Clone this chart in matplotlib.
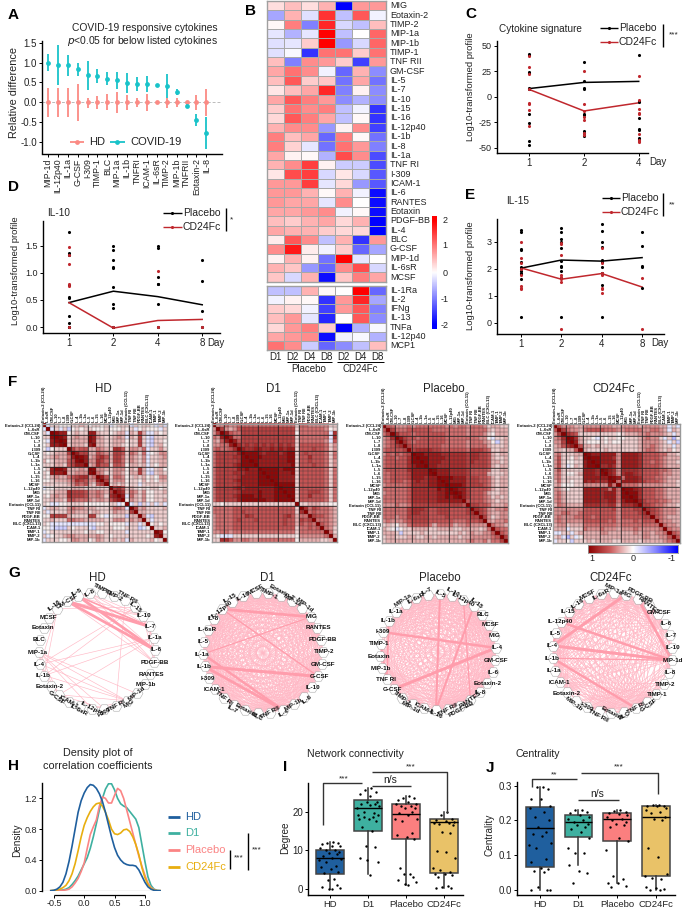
import numpy as np
import matplotlib
matplotlib.use('Agg')
import matplotlib.pyplot as plt
from matplotlib.colors import LinearSegmentedColormap

plt.rcParams['font.family'] = ['Liberation Sans', 'DejaVu Sans']
W, H = 685, 909
TXT = '#222222'

# ---------- Panel A ----------
A_labels = ['MIP-1d','IL-12p40','IL-1a','G-CSF','I-309','TIMP-1','BLC','MIP-1a','IL-1b','TNFRI','ICAM-1','IL-6sR','TIMP-2','MIP-1b','TNFRII','Eotaxin-2','IL-8']
A_cov_mean = [1.0,.94,.93,.83,.69,.66,.59,.55,.48,.47,.45,.44,.40,.25,-.09,-.45,-.76]
A_cov_low = [.79,.43,.67,.66,.32,.48,.44,.33,.23,.29,.25,.41,.11,.18,-.13,-.60,-1.16]
A_cov_high = [1.21,1.44,1.18,1.00,1.05,.84,.75,.76,.73,.63,.66,.47,.70,.33,-.05,-.30,-.37]
A_hd_mean = [0]*17
A_hd_low = [-.36,-.37,-.36,-.46,-.13,-.16,-.2,-.26,-.19,-.12,-.22,-.04,-.13,-.11,-.05,-.19,-.34]
A_hd_high = [.35,.36,.35,.45,.12,.15,.2,.25,.18,.11,.21,.03,.12,.10,.04,.18,.33]

# ---------- Panel B ----------
B_cols = ['D1','D2','D4','D8','D2','D4','D8']
B_top_labels = ['MIG','Eotaxin-2','TIMP-2','MIP-1a','MIP-1b','TIMP-1','TNF RII','GM-CSF','IL-5','IL-7','IL-10','IL-15','IL-16','IL-12p40','IL-1b','IL-8','IL-1a','TNF RI','I-309','ICAM-1','IL-6','RANTES','Eotaxin','PDGF-BB','IL-4','BLC','G-CSF','MIP-1d','IL-6sR','MCSF']
B_top = [
[.25,.5,.25,.6,-2,.8,.8],[-.7,.6,-.25,1.6,-.5,1.3,-.1],[.05,1,-1,1.7,-.3,-.5,.5],[-.2,-.6,-.2,2,-.5,0,1.2],
[-.25,-.2,.4,2,-.8,-.3,1.2],[-.25,-.05,-1.6,1.1,1.1,.4,1.1],[.5,-1,.9,.8,.4,-1.5,.8],[.7,1.1,.9,-.1,-1.2,.6,-.9],
[.5,1.3,.4,.45,-1.1,.7,-1.1],[.2,.5,.7,1.7,-1,.1,-.9],[.7,1.3,1,.8,-.9,-.6,-.9],[.4,1.1,.9,1,-.5,-.1,-1.6],
[.3,1.3,1,.7,-.5,.05,-1.6],[.6,.9,.9,-.8,.1,.9,-1.5],[1,.5,.7,-1.2,1,.05,-1.1],[1,.35,-.2,-1.1,1.1,.8,-1],
[.7,.1,.05,-.6,1.4,.9,-1.4],[.6,.9,1.5,.1,-.4,-.4,-1.4],[.2,1.4,1.5,-.3,.2,-.3,-1.3],[.8,.8,1.5,-.2,.3,-.8,-1.3],
[.8,.8,.6,.05,.6,-.1,-1.9],[.8,.7,.7,-.2,.9,0,-1.9],[.7,.7,.8,.9,-.1,.05,-1.9],[.5,.4,.6,.7,.3,.6,-2],
[.7,.6,.6,.4,.3,.3,-2],[.15,1.3,.9,-.5,.6,-1.6,.8],[.9,1.8,.15,-.1,.4,-1.2,-.7],[.1,.6,.1,-1.1,2,-.2,0],
[.6,.45,-.8,-1.2,.9,1.4,-.3],[.45,-.3,.6,-1.9,.45,1,.7]]
B_bot_labels = ['IL-1Ra','IL-2','IFNg','IL-13','TNFa','IL-12p40','MCP1']
B_bot = [[-.5,-.5,.6,.05,0,2,-1.2],[-.1,.1,.05,-1.6,.8,1.7,-.7],[.4,.3,-.1,-1.5,.8,1.3,-1],[.5,.8,-.2,-1.7,0,1.3,-.9],
[.3,.8,1,.4,-2,-.6,-.05],[.7,.8,.9,-1.9,-.1,-.05,-.6],[1.1,.9,-.4,-1.2,-.9,-.5,.5]]

# ---------- Panels C, D, E ----------
C_days = ['1','2','4']
C_black = [[42,41,24,23,9,8,-17,-26,-43,-47],[34,15,9,8,-17,-18,-34,-36,-38,-39],[41,-4,-5,-21,-32,-33,-40,-41]]
C_red = [[40,29,22,8,-7,-6,-13,-29],[25,-7,-14,-20,-23,-38,-36],[20,-3,-12,-16,-17,-37,-43,-44,-42]]
C_placebo = [8,14,15]
C_cd24 = [7,-14,-6]
D_days = ['1','2','4','8']
D_black = [[1.75,1.36,1.33,.78,.55,.54,.2,.08,0,0],[1.5,1.42,1.23,1.1,1.08,.74,.42,.35,0],[1.5,1.46,.92,.8,.79,.43,0],[1.24,.84,.29,0]]
D_red = [[1.48,1.32,1.17,.79,.76,0],[0],[1.04,0],[0]]
D_placebo = [.45,.66,.56,.41]
D_cd24 = [.45,-.02,.12,.14]
E_black = [[3.42,3.35,2.72,2.68,2.25,2.05,1.9,1.85,1.8,1.6,.22],[3.5,3.35,3.1,3.0,2.75,2.3,2.1,2.05,1.9,1.65,.22],[3.65,3.4,3.0,2.8,2.33,2.25,2.05,1.85,1.4,.22],[3.35,2.85,2.1,2.05,1.3]]
E_red = [[3.0,2.4,2.2,2.0,1.75,1.35,1.3,1.25],[2.95,2.9,2.5,1.75,1.7,1.6,1.5,-.22],[2.75,2.2,1.85,1.75,1.3,1.25,1.1],[1.65,-.22]]
E_placebo = [2.02,2.32,2.28,2.41]
E_cd24 = [2.03,1.61,1.82,1.32]

# ---------- Panel F: upper triangles, digit = r*10, a/b/c = -0.1/-0.2/-0.3 ----------
F_names = ['Eotaxin-2','IL-6sR','GM-CSF','IL-10','IL-7','IL-8','I-309','G-CSF','IL-4','IL-1b','IL-1a','IL-5','IL-6','IL-15','IL-16','MCSF','IL-12p40','MIG','MIP-1a','MIP-1d','Eotaxin','TNF RI','TNF RII','PDGF-BB','RANTES','BLC','ICAM-1','TIMP-1','TIMP-2','MIP-1b']
F_labels = ['Eotaxin-2 (CCL24)','IL-6sR','GM-CSF','IL-10','IL-7','IL-8','I-309','G-CSF','IL-4','IL-1b','IL-1a','IL-5','IL-6','IL-15','IL-16','MCSF','IL-12p40','MIG','MIP-1a','MIP-1d','Eotaxin (CCL11)','TNF RI','TNF RII','PDGF-BB','RANTES','BLC (CXCL13)','ICAM-1','TIMP-1','TIMP-2','MIP-1b']
F_HD = ["a1100 01121 01101 a0111 a1011 0a1a","a1a1b 01011 00010 00101 a0100 0a1","98801 21188 21101 22a21 62aa1 01","98123 22983 21123 2a216 1ab11 1",
"91222 29822 11222 01161 ab110","12221 89221 12210 1161a b120","64552 24321 77513 324a1 131","86622 54326 65143 14a01 33","98236 75266 41321 3a112 3",
"83376 42664 13213 a1122","23755 15540 2212a 1022","93321 33302 162aa 120","43113 32022 62ab1 21","85144 30121 20103 3","61333 01102 01022","12120 11a11 1111",
"67512 10101 101","87143 13001 12","8a421 30011 1","03213 00112","a1b1a 1a1a","62311 112","22111 11","3ab11 1","1a111","0101","112","80","1"]
F_D1 = ["33433 44444 44444 44441 44333 3311","63235 66666 66666 66614 44444 301","85446 66666 66666 66044 44444 a7","84466 66666 66666 61444 4444a 7",
"85666 66666 66666 14444 443a5","76767 67676 76761 55555 5413","87788 77878 78815 55655 413","99987 88878 99156 55554 14","99988 88889 91557 55541 4",
"98888 88899 15565 55413","88888 88891 55565 5413","99998 99915 55555 414","99988 89155 55554 14","99888 81555 55541 4","98888 15555 55414","99991 55555 5414",
"99915 55555 414","99155 66654 14","91557 55541 4","15555 55414","11222 1100","74654 432","45444 32","65543 2","44432","5432","431","41","2"]
F_PL = ["54333 43444 44443 43443 44431 2211","64445 55555 44444 44434 44421 222","75554 55555 55444 44344 43102 22","86554 55555 54444 44443 30a11 2",
"75455 55555 44444 34443 20b12","65555 55544 44443 44442 1112","67777 66555 55546 66541 122","99888 87777 77677 66521 22","99888 87777 76776 65211 2",
"98887 77777 67666 52212","88777 77776 66665 2122","98887 77765 55541 122","88877 77655 55211 12","99988 86665 54212 2","98888 66655 42122","99986 66654 2122",
"98865 55542 122","98655 54211 22","86555 43121 2","55554 32122","66554 2223","76532 334","65322 33","63123 3","32334","4332","544","54","6"]
F_CD = ["53332 23333 33322 33332 33332 2a1a","64332 45555 44433 44443 34432 a21","76511 11111 11012 22334 33321 a1","97211 0a101 10011 12343 31a1c 0",
"82100 01010 01111 23333 21a1b","52212 11111 11112 33432 11a1","21111 21111 11123 44321 201","98888 88388 88755 55442 21","99888 73888 87555 54322 2",
"98888 38888 75545 43221","77873 88887 55554 3222","98737 77765 55544 322","87378 87655 55433 22","98488 87555 44322 2","48888 76555 43221","44443 33333 2221",
"99875 55443 222","99755 54432 22","97555 44322 2","86555 44322","66544 3221","76543 332","65433 32","54322 2","43322","4332","433","54","5"]

# ---------- Panel G: node order, clockwise ----------
G_HD_nodes = ['IL-8','TIMP-1','TIMP-2','TNF RII','IL-15','IL-10','IL-7','IL-1a','IL-6','PDGF-BB','RANTES','MIP-1b','MIP-1d','MIG','TNF RI','I-309','IL-12p40','IL-6sR','ICAM-1','G-CSF','Eotaxin-2','IL-1b','IL-4','MIP-1a','BLC','Eotaxin','MCSF','IL-16','GM-CSF','IL-5']
G_D1_nodes = ['TIMP-1','Eotaxin-2','MIP-1a','MIP-1d','MIG','RANTES','PDGF-BB','TIMP-2','GM-CSF','G-CSF','IL-10','IL-6','MIP-1b','IL-4','TNF RII','BLC','Eotaxin','IL-7','TNF RI','ICAM-1','I-309','IL-1b','IL-1a','IL-5','IL-6sR','IL-8','IL-12p40','IL-15','IL-16','MCSF']
G_PL_nodes = ['IL-5','IL-10','IL-12p40','IL-15','BLC','MCSF','MIG','IL-4','GM-CSF','IL-6','Eotaxin-2','IL-8','RANTES','PDGF-BB','TNF RII','IL-16','ICAM-1','MIP-1d','TIMP-2','G-CSF','TNF RI','MIP-1b','Eotaxin','TIMP-1','I-309','IL-1b','IL-1a','MIP-1a','IL-6sR','IL-7']
G_CD_nodes = ['MIG','PDGF-BB','RANTES','GM-CSF','IL-6','IL-7','IL-10','MIP-1d','IL-8','TIMP-2','TIMP-1','G-CSF','TNF RI','BLC','Eotaxin','TNF RII','I-309','MIP-1b','Eotaxin-2','ICAM-1','IL-1a','IL-1b','IL-4','IL-5','IL-12p40','IL-15','IL-16','MCSF','IL-6sR','MIP-1a']
G_HD_heavy = [('GM-CSF','IL-7',2.2),('GM-CSF','IL-6',2.0),('IL-5','IL-6',2.0),('IL-5','IL-7',1.2)]
G_D1_heavy = [('IL-12p40','MIG',2.0),('IL-1b','G-CSF',2.2),('IL-1b','IL-4',2.0),('IL-1a','IL-4',1.8),('IL-12p40','G-CSF',1.0),('IL-1a','MIG',.8)]
G_PL_heavy = [('I-309','IL-4',1.8),('G-CSF','IL-4',2.2),('IL-5','IL-16',1.5),('IL-15','IL-16',1.5),('IL-1b','TNF RI',1.2),('IL-12p40','RANTES',.9),('TIMP-1','TNF RI',1.5)]
G_CD_heavy = [('MIG','IL-4',2.2),('MIP-1d','IL-4',2.2),('MIP-1d','IL-12p40',1.8),('MIP-1d','PDGF-BB',2.0),('IL-1b','TNF RI',1.8),('MIP-1d','IL-1b',.9),('IL-4','IL-5',1.5)]

# ---------- Panel H ----------
H_x = [-.55,-.5,-.45,-.4,-.35,-.3,-.25,-.2,-.15,-.1,-.05,0,.05,.1,.15,.2,.25,.3,.35,.4,.45,.5,.55,.6,.65,.7,.75,.8,.85,.9,.95,1.0,1.05,1.1,1.15,1.2,1.25]
H_hd = [0,.005,.02,.05,.11,.22,.38,.58,.80,1.02,1.17,1.27,1.34,1.38,1.37,1.33,1.26,1.16,1.02,.86,.70,.56,.46,.40,.36,.34,.33,.33,.32,.27,.19,.11,.05,.02,.005,0,0]
H_d1 = [0,0,0,.005,.01,.02,.04,.08,.13,.19,.27,.35,.43,.55,.70,.87,1.05,1.2,1.32,1.39,1.39,1.31,1.2,1.13,1.1,1.08,1.03,.98,.93,.82,.6,.38,.18,.07,.02,.005,0]
H_pl = [0,0,0,0,.005,.01,.02,.05,.1,.16,.25,.36,.55,.73,.83,.92,1.1,1.22,1.2,1.14,1.14,1.24,1.33,1.3,1.2,1.05,.9,.75,.6,.45,.32,.2,.1,.04,.015,0,0]
H_cd = [0,.005,.01,.02,.04,.07,.13,.22,.35,.52,.7,.85,.95,1.03,1.09,1.13,1.14,1.1,1.02,.92,.8,.74,.73,.75,.79,.8,.77,.7,.6,.47,.3,.17,.08,.03,.01,0,0]

# ---------- Panels I, J ----------
GROUPS = ['HD','D1','Placebo','CD24Fc']
I_q1 = [3.8,15,13,4.2]; I_med = [8,21,19.4,17.2]; I_q3 = [10,23,22,18]; I_lo = [0,4,1,.3]; I_hi = [12.2,26,24,20]
J_q1 = [.065,.152,.14,.04]; J_med = [.177,.194,.205,.21]; J_q3 = [.237,.216,.22,.24]; J_lo = [0,.07,.02,0]; J_hi = [.295,.23,.23,.245]
I_pts = [[12.2,12,11.8,11.5,11.2,11,10.5,10.2,10,9.5,9.2,9,8.5,8,7.8,7.5,7,6,5.8,5.2,4.5,4.2,2.6,2.2,1,.6,.2,0,.1],
 [26,25.5,25,24.5,24,19,19,18.5,18.5,22.5,22.5,22,22,21.8,21.5,21,20,19.5,18,18,17.5,16,15,11,10.8,8,7,7.5,3.7],
 [24,23.5,23.5,23,22.5,22,22,21.5,21.5,21,21,20,19.5,19,18,18,17.5,14.5,14,13.5,12.8,5.3,4,4,3,2.2,1.8,1.3,1],
 [20,19,18,17.8,17.5,17.3,17,17,16.8,16.5,14.8,14.5,9.8,9.6,8,5.5,4.8,4.5,4,3.8,3.5,3,.8,.5,.3,.3]]
J_pts = [[.295,.295,.29,.262,.26,.24,.235,.225,.21,.2,.18,.165,.16,.155,.135,.13,.12,.09,.08,.062,.06,.055,.05,.008,0,0,0],
 [.23,.23,.225,.22,.215,.21,.205,.2,.195,.19,.185,.18,.175,.165,.15,.12,.105,.105,.07,.055,.048,.02],
 [.23,.228,.225,.22,.218,.215,.21,.205,.2,.195,.19,.185,.18,.15,.14,.115,.04,.03,.02,.02,.01,.008],
 [.245,.243,.242,.24,.24,.235,.23,.225,.22,.21,.205,.2,.12,.095,.045,.04,.035,.03,.008,.005,.002,0,0]]
JITTER = [.08,-.08,.22,-.22,.04,.26,-.26,.12,-.12,.24,-.04,.17,-.19,.06,.28,-.28,-.1,.15,-.24,.02,.22,-.15,.1,-.06,.19,-.22,.26,-.02,.05]
BOX_COL = ['#1f5f9e','#3eb0a0','#fb7f7f','#e9c268']

fig = plt.figure(figsize=(6.85, 9.09), dpi=100)

def axpx(l, t, r, b, **kw):
    return fig.add_axes([l/W, 1-b/H, (r-l)/W, (b-t)/H], **kw)

ov = fig.add_axes([0, 0, 1, 1], zorder=10)
ov.set_xlim(0, W); ov.set_ylim(H, 0); ov.axis('off'); ov.patch.set_alpha(0)

def T(x, y, s, size=7, ha='left', va='center', **kw):
    kw.setdefault('color', TXT)
    ov.text(x, y, s, fontsize=size, ha=ha, va=va, **kw)

def L(xs, ys, lw=1, color='black', **kw):
    ov.plot(xs, ys, lw=lw, color=color, solid_capstyle='butt', **kw)

def style(ax, lw=1.0):
    for s in ('top', 'right'):
        ax.spines[s].set_visible(False)
    for s in ('left', 'bottom'):
        ax.spines[s].set_linewidth(lw)
    ax.tick_params(length=2, width=.7, pad=1.5, labelcolor=TXT)

for x, y, s in [(8,15,'A'),(245,11,'B'),(465,14,'C'),(8,187,'D'),(465,195,'E'),(8,382,'F'),(8,573,'G'),(8,766,'H'),(283,767,'I'),(486,768,'J')]:
    T(x, y, s, size=11, fontweight='bold', color='black')

# A
HDc, COVc = '#fb8a84', '#19c3c9'
ax = axpx(42, 41, 222, 153.5); style(ax)
xa = np.arange(len(A_labels))
ax.axhline(0, color='#bbbbbb', lw=.7, ls=(0, (3, 2)))
ax.vlines(xa, A_hd_low, A_hd_high, color=HDc, lw=1.3)
ax.vlines(xa, A_cov_low, A_cov_high, color=COVc, lw=1.3)
ax.scatter(xa, A_hd_mean, s=12, color=HDc, zorder=3, lw=0)
ax.scatter(xa, A_cov_mean, s=12, color=COVc, zorder=3, lw=0)
ax.set_xlim(-.6, 17.58 - .0); ax.set_ylim(-1.285, 1.54)
ax.set_xticks(xa); ax.set_xticklabels(A_labels, rotation=90, fontsize=6.3)
ax.set_yticks([-1, -.5, 0, .5, 1, 1.5]); ax.set_yticklabels(['-1.0','-0.5','0.0','0.5','1.0','1.5'], fontsize=7)
T(218, 28, 'COVID-19 responsive cytokines', size=7.4, ha='right')
T(218, 41.5, r'$\mathit{p}$<0.05 for below listed cytokines', size=7.4, ha='right')
T(14, 93, 'Relative difference', size=7.8, ha='center', rotation=90)
L([70, 84], [142, 142], 1.3, HDc); ov.scatter([77], [142], s=12, color=HDc, lw=0)
L([110, 125], [142, 142], 1.3, COVc); ov.scatter([117.5], [142], s=12, color=COVc, lw=0)
T(89, 142, 'HD', size=8); T(130, 142, 'COVID-19', size=8)

# B
cm_b = LinearSegmentedColormap.from_list('b', ['#0000ff', '#ffffff', '#ff0000'])
def heat(data, labels, t, b):
    a = axpx(267.3, t, 386, b)
    a.pcolormesh(np.array(data)[::-1], cmap=cm_b, vmin=-2, vmax=2, edgecolors='#a8a8a8', linewidth=.55)
    a.set_xticks([]); a.set_yticks([])
    for s in a.spines.values():
        s.set_color('#a0a0a0'); s.set_linewidth(1)
    h = (b-t)/len(labels)
    for i, n in enumerate(labels):
        T(390, t+h*(i+.5), n, size=6.5)
heat(B_top, B_top_labels, 1, 281.7)
heat(B_bot, B_bot_labels, 286, 350)
cw = (386-267.3)/7
for i, n in enumerate(B_cols):
    T(267.3+cw*(i+.5), 356.5, n, size=7, ha='center')
L([287, 332], [361.7, 361.7], .7); L([337, 384], [361.7, 361.7], .7)
T(309, 369, 'Placebo', size=7, ha='center'); T(360, 369, 'CD24Fc', size=7, ha='center')
cb = axpx(432, 216, 436.5, 329)
cb.imshow(np.linspace(2.17, -2.17, 128)[:, None], aspect='auto', cmap=cm_b, vmin=-2, vmax=2)
cb.axis('off')
for v, y in zip(['2','1','0','-1','-2'], [220.7, 245, 273, 300, 325]):
    T(445, y, v, size=6.5, ha='center')

# C D E
RED = '#c0272d'
def trend(box, xlim, ylim, days, black, red, pl, cd, yticks, yfmt):
    a = axpx(*box); style(a)
    for i in range(len(days)):
        a.scatter([i]*len(black[i]), black[i], s=5, color='black', lw=0, zorder=3)
        a.scatter([i]*len(red[i]), red[i], s=5, color=RED, lw=0, zorder=3)
    a.plot(range(len(days)), pl, color='black', lw=1.1)
    a.plot(range(len(days)), cd, color=RED, lw=1.1)
    a.set_xlim(*xlim); a.set_ylim(*ylim)
    a.set_xticks(range(len(days))); a.set_xticklabels(days, fontsize=7)
    a.set_yticks(yticks); a.set_yticklabels([yfmt % v for v in yticks], fontsize=6.5)
    return a
def legend(x0, x1, y1, y2, barx, b0, b1, stars, sx, sy):
    L([x0, x1], [y1, y1], 1, 'black'); ov.scatter([(x0+x1)/2], [y1], s=5, color='black', lw=0)
    L([x0, x1], [y2, y2], 1, RED); ov.scatter([(x0+x1)/2], [y2], s=5, color=RED, lw=0)
    T(x1+1, y1, 'Placebo', size=7.5); T(x1+1, y2, 'CD24Fc', size=7.5)
    L([barx, barx], [b0, b1], 1)
    T(sx, sy, stars, size=6, ha='center')

trend((496.7, 41, 648, 152.7), (-.6, 2.17), (-54.9, 54.6), C_days, C_black, C_red, C_placebo, C_cd24, [-50,-25,0,25,50], '%d')
T(499, 29, 'Cytokine signature', size=7.2)
legend(600, 618, 28.3, 41.7, 663, 24, 46.7, '***', 673.7, 35)
T(471, 87, 'Log10-transformed profile', size=6.8, ha='center', rotation=90)
T(649, 162, 'Day', size=7)

trend((42.7, 220.7, 220, 333.3), (-.59, 3.4), (-.116, 1.96), D_days, D_black, D_red, D_placebo, D_cd24, [0, .5, 1, 1.5], '%.1f')
T(47, 213, 'IL-10', size=7.2)
legend(163, 182, 212.7, 226.7, 226, 208, 231, '*', 232, 220)
T(15.7, 270.7, 'Log10-transformed profile', size=6.8, ha='center', rotation=90)
T(207, 343, 'Day', size=7)

trend((496.7, 219.3, 664.3, 334), (-.6, 3.55), (-.42, 3.83), D_days, E_black, E_red, E_placebo, E_cd24, [0, 1, 2, 3], '%d')
T(505.7, 200.7, 'IL-15', size=7.2)
legend(601.7, 620, 198.3, 212, 663, 193.3, 216, '**', 671.7, 205)
T(471, 275.7, 'Log10-transformed profile', size=6.8, ha='center', rotation=90)
T(651, 343, 'Day', size=7)

# F
cm_f = LinearSegmentedColormap.from_list('f', [(0, '#8b0000'), (.25, '#cc5f5f'), (.5, '#ffffff'), (.75, '#8888ff'), (1, '#0000ff')])
CODE = {'a': -.1, 'b': -.2, 'c': -.3}
def corr(rows):
    m = np.eye(30)
    for i, s in enumerate(rows):
        s = s.replace(' ', '')
        for k, ch in enumerate(s):
            v = CODE[ch] if ch in CODE else int(ch)/10 + .05
            m[i, i+1+k] = m[i+1+k, i] = v
    return m
MATS = {'HD': corr(F_HD), 'D1': corr(F_D1), 'Placebo': corr(F_PL), 'CD24Fc': corr(F_CD)}
F_boxes = {'HD': (42, 423.5, 166.7, 541.7), 'D1': (211.7, 423.5, 336.7, 541.7), 'Placebo': (382.3, 424, 508, 542.7), 'CD24Fc': (553.3, 424, 680, 542.7)}
F_tx = {'HD': 103, 'D1': 273, 'Placebo': 444, 'CD24Fc': 614}
for k, m in MATS.items():
    a = axpx(*F_boxes[k])
    a.imshow(-m, cmap=cm_f, vmin=-1, vmax=1, aspect='auto', extent=(0, 30, 30, 0), interpolation='nearest')
    a.hlines(range(1, 30), 0, 30, color='#333333', lw=.25)
    a.vlines(range(1, 30), 0, 30, color='#333333', lw=.25)
    for p in (3, 7, 11, 16, 21):
        a.vlines(p, 0, 30, color='#222222', lw=.5)
        a.hlines(p, 0, 30, color='#222222', lw=.5)
    a.set_xticks(np.arange(30)+.5); a.set_yticks(np.arange(30)+.5)
    a.xaxis.tick_top()
    a.set_xticklabels(F_labels, rotation=90, fontsize=3, fontweight='bold')
    a.set_yticklabels(F_labels, fontsize=3, fontweight='bold')
    a.tick_params(length=0, pad=1, labelcolor='#111111')
    for s in a.spines.values():
        s.set_color('#999999'); s.set_linewidth(1)
    T(F_tx[k], 388.5, k, size=8.3, ha='center')
cb = axpx(588.3, 545.3, 678.3, 552.7)
cb.imshow(np.linspace(-1, 1, 128)[None, :], aspect='auto', cmap=cm_f, vmin=-1, vmax=1)
cb.set_xticks([]); cb.set_yticks([])
for s in cb.spines.values():
    s.set_color('#999999'); s.set_linewidth(.6)
for x, s in [(592, '1'), (633, '0'), (672, '-1')]:
    T(x, 558.5, s, size=6.5, ha='center')

# G
def network(key, nodes, heavy, cx, cy, R, start, thr, tx):
    m = MATS[key]
    th = np.deg2rad(start - np.arange(30)*12.0)
    px = {n: (cx+R*np.cos(t), cy-R*np.sin(t)) for n, t in zip(nodes, th)}
    for i in range(30):
        for j in range(i+1, 30):
            if m[i, j] >= thr:
                a, b = px[F_names[i]], px[F_names[j]]
                ov.plot([a[0], b[0]], [a[1], b[1]], color='#ffb9c6', lw=.45, zorder=1)
    for a, b, w in heavy:
        ov.plot([px[a][0], px[b][0]], [px[a][1], px[b][1]], color='#ff9dac', lw=w, zorder=2, solid_capstyle='round')
    xs, ys = zip(*[px[n] for n in nodes])
    ov.scatter(xs, ys, s=62, marker='H', facecolor='white', edgecolor='#aaaaaa', lw=.4, zorder=3)
    for idx, (n, t) in enumerate(zip(nodes, th)):
        deg = np.rad2deg(t)
        rot = 0
        push = 1
        if abs(np.sin(t)) > .72:
            tang = (deg-90+90) % 180 - 90
            rot = np.sign(tang if tang != 0 else 1)*np.clip(abs(tang), 28, 38)
            push = 4 if idx % 2 else 0
        lx = px[n][0] + push*np.cos(t)
        ly = px[n][1] - push*np.sin(t)
        ov.text(lx, ly, n, fontsize=4.5, fontweight='bold', color='#111111', ha='center', va='center', rotation=rot, rotation_mode='anchor', zorder=4)
    T(tx, 578, key, size=8.3, ha='center')
network('HD', G_HD_nodes, G_HD_heavy, 97, 651, 58, 97, .6, 97)
network('D1', G_D1_nodes, G_D1_heavy, 263, 653, 60, 85, .3, 267)
network('Placebo', G_PL_nodes, G_PL_heavy, 438, 652, 58, 88, .3, 440)
network('CD24Fc', G_CD_nodes, G_CD_heavy, 612.5, 653, 60, 77, .3, 611)

# H
a = axpx(41.7, 783, 160.7, 890.7)
for s in ('top', 'right', 'bottom'):
    a.spines[s].set_visible(False)
a.spines['left'].set_linewidth(1)
for y, c in [(H_d1, BOX_COL[1]), (H_pl, '#fb8484'), (H_cd, '#e8ae0f'), (H_hd, '#1f5f9e')]:
    a.plot(H_x, y, color=c, lw=1.2)
a.axhline(0, color='#555555', lw=.8)
a.set_xlim(-.7, 1.26); a.set_ylim(0, 1.4)
a.set_xticks([]); a.set_yticks([0, .4, .8, 1.2]); a.set_yticklabels(['0.0','0.4','0.8','1.2'], fontsize=6.5)
a.tick_params(length=2, width=.7, pad=1.5, labelcolor=TXT)
L([54, 145], [895, 895], .9)
for x, s in [(54,'-0.5'),(84.3,'0.0'),(114.7,'0.5'),(145,'1.0')]:
    L([x, x], [895, 897.5], .7)
    T(x, 904, s, size=6.5, ha='center')
T(98, 752.7, 'Density plot of', size=7.8, ha='center'); T(98, 765.7, 'correlation coefficients', size=7.8, ha='center')
T(17, 840, 'Density', size=7.2, ha='center', rotation=90)
for y, n, c in [(816.7,'HD','#1f5f9e'),(833.3,'D1',BOX_COL[1]),(850,'Placebo','#fb8484'),(867,'CD24Fc','#e8ae0f')]:
    L([168, 180], [y, y], 2, c)
    T(185, y, n, size=8, color=c)
L([230, 230], [850, 869], 1); T(239, 858, '***', size=6, ha='center')
L([248, 248], [833, 870], 1); T(257, 850, '***', size=6, ha='center')

# I J
def boxes(bx, xlim, ylim, q1, med, q3, lo, hi, pts, yticks, ylabs):
    a = axpx(*bx); style(a)
    st = [dict(med=med[i], q1=q1[i], q3=q3[i], whislo=lo[i], whishi=hi[i], fliers=[]) for i in range(4)]
    art = a.bxp(st, positions=range(4), widths=.72, patch_artist=True, showfliers=False, showcaps=False,
                boxprops=dict(edgecolor='#444444', lw=1.1), medianprops=dict(color='black', lw=1),
                whiskerprops=dict(color='#333333', lw=1.1))
    for p, c in zip(art['boxes'], BOX_COL):
        p.set_facecolor(c)
    for i in range(4):
        jit = JITTER[:len(pts[i])]
        a.scatter(i+np.array(jit), pts[i], s=3, color='black', lw=0, zorder=4)
    a.set_xlim(*xlim); a.set_ylim(*ylim)
    a.set_xticks(range(4)); a.set_xticklabels(GROUPS, fontsize=6.8)
    a.set_yticks(yticks); a.set_yticklabels(ylabs, fontsize=7)
boxes((307.7, 783.3, 463, 895), (-.59, 3.5), (-1.55, 27.3), I_q1, I_med, I_q3, I_lo, I_hi, I_pts, [0, 10, 20], ['0','10','20'])
boxes((516.7, 781.7, 675, 895), (-.6, 3.5), (-.015, .311), J_q1, J_med, J_q3, J_lo, J_hi, J_pts, [0, .1, .2, .3], ['0.0','0.1','0.2','0.3'])
T(306.7, 754, 'Network connectivity', size=7.6); T(515.7, 754, 'Centrality', size=7.6)
T(285, 838, 'Degree', size=7.2, ha='center', rotation=90)
T(490, 835, 'Centrality', size=7.2, ha='center', rotation=90)
L([322.7, 322.7, 362], [825, 783.3, 783.3], 1, '#333333'); T(344, 778.5, '***', size=6, ha='center')
L([371.7, 411], [785.7, 785.7], 1, '#333333'); T(390, 780, 'n/s', size=7.5, ha='center')
L([372, 447, 447], [771.7, 771.7, 813], 1, '#333333'); T(410.7, 767, '***', size=6, ha='center')
L([531.7, 531.7, 576.7], [786.7, 779, 779], 1, '#333333'); T(554.3, 775, '**', size=6, ha='center')
L([577.7, 619], [799.7, 799.7], 1, '#333333'); T(597.7, 794, 'n/s', size=7.5, ha='center')
L([580.7, 658, 658], [773, 773, 794], 1, '#333333'); T(619, 767, '***', size=6, ha='center')
ov.set_xlim(0, W); ov.set_ylim(H, 0)

fig.savefig('out.png', dpi=100)
